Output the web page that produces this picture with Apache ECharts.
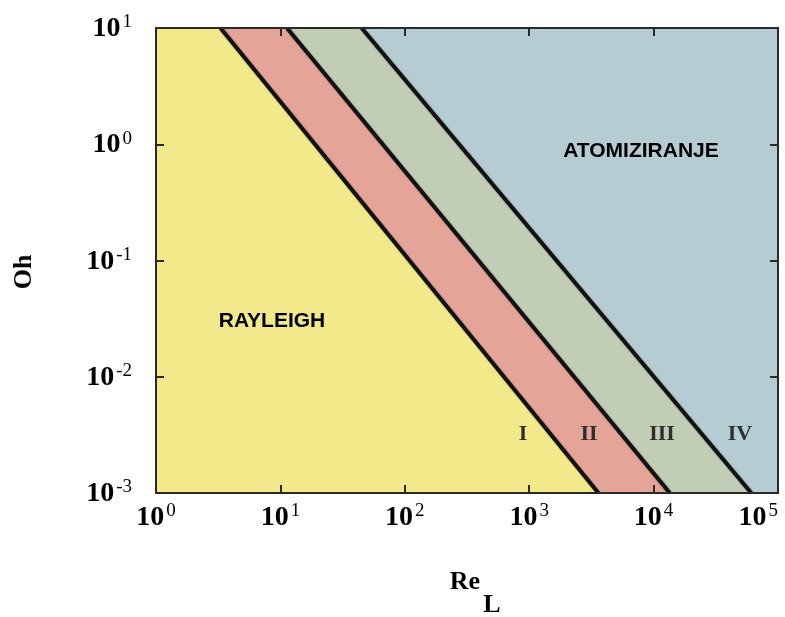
<!DOCTYPE html>
<html>
<head>
<meta charset="utf-8">
<script src="https://cdn.jsdelivr.net/npm/echarts@6/dist/echarts.min.js"></script>
<style>
  html, body { margin: 0; padding: 0; background: #ffffff; }
  #chart { width: 785px; height: 617px; }
</style>
</head>
<body>
<div id="chart"></div>
<script>
// Breakup regimes of a liquid jet in the Ohnesorge / Reynolds plane
const reRange = [1, 100000];          // Re_L axis extent
const ohRange = [0.001, 10];          // Oh axis extent
// Regime boundaries: Re_L where each boundary meets Oh = 10 and Oh = 0.001
const reAtOhTop = [3.3, 11.3, 45];
const reAtOhBottom = [3600, 13500, 61000];
const regimeLabels = ['I', 'II', 'III', 'IV'];
const regimeColors = ['#f2ea8a', '#e4a598', '#c2cdb6', '#b4ccd2'];
const regionNames = ['RAYLEIGH', 'ATOMIZIRANJE'];

// Build the four regime polygons from the boundary lines
const leftEdge = [[reRange[0], ohRange[1]], [reRange[0], ohRange[0]]];
const rightEdge = [[reRange[1], ohRange[1]], [reRange[1], ohRange[0]]];
const boundaries = reAtOhTop.map((r, i) => [[r, ohRange[1]], [reAtOhBottom[i], ohRange[0]]]);
const edges = [leftEdge].concat(boundaries, [rightEdge]);
const regions = [];
for (let i = 0; i < edges.length - 1; i++) {
  const a = edges[i], b = edges[i + 1];
  regions.push([a[0], b[0], b[1], a[1]]);
}

const chart = echarts.init(document.getElementById('chart'));

const axisCol = '#2a2a2a';
const tickLabel = {
  fontFamily: 'Liberation Serif',
  formatter: function (v) {
    const e = Math.round(Math.log10(v));
    return '{b|10}{e|' + e + '}';
  },
  rich: {
    b: { fontSize: 28, fontWeight: 'bold', color: '#000', fontFamily: 'Liberation Serif', lineHeight: 30, verticalAlign: 'bottom' },
    e: { fontSize: 19, color: '#000', fontFamily: 'Liberation Serif', lineHeight: 30, verticalAlign: 'top', padding: [0, 0, 0, 2] }
  }
};

function logAxis(range, pos, showLabels, extra) {
  return Object.assign({
    type: 'log',
    logBase: 10,
    min: range[0],
    max: range[1],
    position: pos,
    z: 5,
    axisLine: { show: true, lineStyle: { color: axisCol, width: 2 } },
    axisTick: { show: true, inside: true, length: 8, lineStyle: { color: axisCol, width: 2 } },
    minorTick: { show: false },
    splitLine: { show: false },
    axisLabel: showLabels ? Object.assign({}, tickLabel) : { show: false }
  }, extra || {});
}

const series = [{
  type: 'custom',
  coordinateSystem: 'cartesian2d',
  xAxisIndex: 0,
  yAxisIndex: 0,
  silent: true,
  z: 1,
  data: regions.map(r => r[0]),
  renderItem: function (params, api) {
    const pts = regions[params.dataIndex].map(p => api.coord(p));
    return {
      type: 'polygon',
      shape: { points: pts },
      style: { fill: regimeColors[params.dataIndex], stroke: regimeColors[params.dataIndex], lineWidth: 0.5 }
    };
  }
}];

boundaries.forEach(b => {
  series.push({
    type: 'line',
    xAxisIndex: 0,
    yAxisIndex: 0,
    data: b,
    symbol: 'none',
    silent: true,
    z: 3,
    lineStyle: { color: '#111', width: 4, shadowColor: 'rgba(0,0,0,0.35)', shadowBlur: 2 }
  });
});

const option = {
  backgroundColor: '#ffffff',
  animation: false,
  grid: { left: 156, right: 7, top: 28, bottom: 124, containLabel: false, outerBoundsMode: 'none' },
  xAxis: [
    logAxis(reRange, 'bottom', true, { axisLabel: Object.assign({}, tickLabel, { margin: 9, showMaxLabel: true, alignMaxLabel: 'right', hideOverlap: false }) }),
    logAxis(reRange, 'top', false)
  ],
  yAxis: [
    logAxis(ohRange, 'left', true, { axisLabel: Object.assign({}, tickLabel, { margin: 24 }) }),
    logAxis(ohRange, 'right', false)
  ],
  series: series,
  graphic: [
    { type: 'text', x: 272, y: 321, z: 10, style: { text: regionNames[0], font: 'bold 21px "Liberation Sans"', fill: '#000', textAlign: 'center', textVerticalAlign: 'middle' } },
    { type: 'text', x: 641, y: 151, z: 10, style: { text: regionNames[1], font: 'bold 21px "Liberation Sans"', fill: '#000', textAlign: 'center', textVerticalAlign: 'middle' } },
    { type: 'text', x: 523, y: 434, z: 10, style: { text: regimeLabels[0], font: 'bold 22px "Liberation Serif"', fill: '#2e2e2e', textAlign: 'center', textVerticalAlign: 'middle' } },
    { type: 'text', x: 589, y: 434, z: 10, style: { text: regimeLabels[1], font: 'bold 22px "Liberation Serif"', fill: '#2e2e2e', textAlign: 'center', textVerticalAlign: 'middle' } },
    { type: 'text', x: 662, y: 434, z: 10, style: { text: regimeLabels[2], font: 'bold 22px "Liberation Serif"', fill: '#2e2e2e', textAlign: 'center', textVerticalAlign: 'middle' } },
    { type: 'text', x: 740, y: 434, z: 10, style: { text: regimeLabels[3], font: 'bold 22px "Liberation Serif"', fill: '#2e2e2e', textAlign: 'center', textVerticalAlign: 'middle' } },
    { type: 'text', x: 24, y: 272, rotation: Math.PI / 2, z: 10, style: { text: 'Oh', font: 'bold 26px "Liberation Serif"', fill: '#000', textAlign: 'center', textVerticalAlign: 'middle' } },
    { type: 'text', x: 465, y: 582, z: 10, style: { text: 'Re', font: 'bold 26px "Liberation Serif"', fill: '#000', textAlign: 'center', textVerticalAlign: 'middle' } },
    { type: 'text', x: 492, y: 605, z: 10, style: { text: 'L', font: 'bold 26px "Liberation Serif"', fill: '#000', textAlign: 'center', textVerticalAlign: 'middle' } }
  ]
};

chart.setOption(option);
</script>
</body>
</html>
